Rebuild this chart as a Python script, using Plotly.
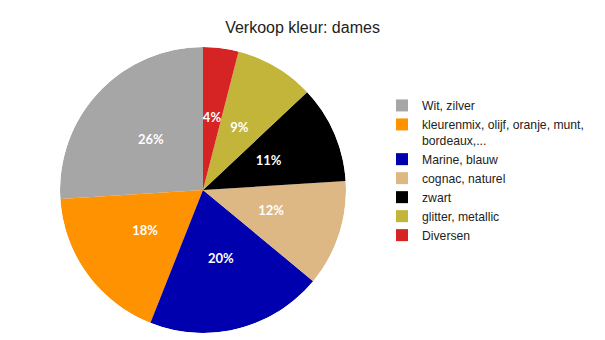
import numpy as np
import plotly.graph_objects as go

labels = [
    "Wit, zilver",
    "kleurenmix, olijf, oranje, munt,<br>bordeaux,...",
    "Marine, blauw",
    "cognac, naturel",
    "zwart",
    "glitter, metallic",
    "Diversen",
]
values = [26, 18, 20, 12, 11, 9, 4]
colors = ["#A6A6A6", "#FF9200", "#0000AE", "#DDB884", "#000000", "#C3B43A", "#D62424"]

W, H = 605, 340

# slice geometry in degrees, measured from 12 o'clock going counterclockwise
vals = np.array(values, dtype=float)
total = vals.sum()
widths = vals / total * 360.0
mids = (np.cumsum(vals) - vals / 2) / total * 360.0
pct_text = [f"{round(v / total * 100):.0f}%" for v in vals]

fig = go.Figure()

for lab, w, m, c, v in zip(labels, widths, mids, colors, values):
    fig.add_trace(
        go.Barpolar(
            r=[1],
            theta=[m],
            width=[w],
            name=lab,
            marker=dict(color=c, line=dict(width=0)),
            customdata=[v],
            hovertemplate=lab + ": %{customdata}%<extra></extra>",
        )
    )

# percentage labels halfway along each slice
fig.add_trace(
    go.Scatterpolar(
        r=[0.5] * len(values),
        theta=mids,
        mode="text",
        text=pct_text,
        textfont=dict(family="Lato", size=13, color="white", weight="bold"),
        showlegend=False,
        hoverinfo="skip",
    )
)

fig.update_layout(
    width=W,
    height=H,
    margin=dict(l=0, r=0, t=0, b=0),
    paper_bgcolor="white",
    plot_bgcolor="white",
    polar=dict(
        domain=dict(x=[60 / W, 346 / W], y=[1 - 333 / H, 1 - 47 / H]),
        bgcolor="rgba(0,0,0,0)",
        bargap=0,
        radialaxis=dict(range=[0, 1], visible=False),
        angularaxis=dict(
            rotation=90,
            direction="counterclockwise",
            visible=False,
        ),
    ),
    title=dict(
        text="Verkoop kleur: dames",
        x=0.5,
        xanchor="center",
        y=1 - 27 / H,
        yanchor="middle",
        font=dict(family="Liberation Sans, Arial", size=16, color="#222222"),
    ),
    legend=dict(
        x=382 / W,
        xanchor="left",
        y=1 - 91 / H,
        yanchor="top",
        valign="top",
        font=dict(family="Liberation Sans, Arial", size=12.2, color="#222222"),
        itemwidth=30,
        tracegroupgap=0,
        traceorder="normal",
        bgcolor="rgba(0,0,0,0)",
    ),
    showlegend=True,
)

fig.write_html("out.html")
